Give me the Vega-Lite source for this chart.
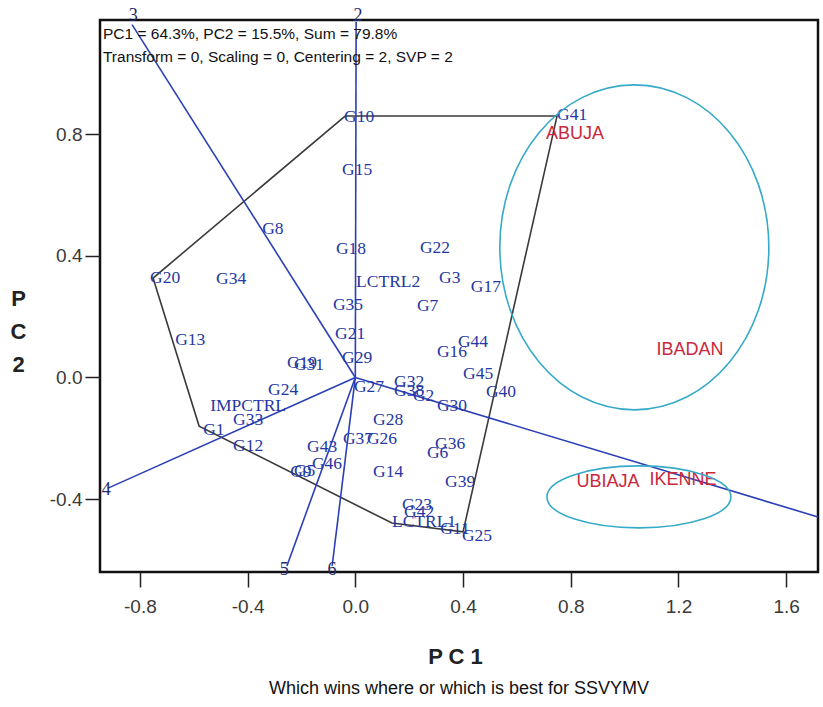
{
  "$schema": "https://vega.github.io/schema/vega-lite/v6.json",
  "width": 718,
  "height": 552,
  "autosize": "none",
  "padding": {"left": 100, "top": 20, "right": 5, "bottom": 135},
  "background": "white",
  "config": {
    "view": {"stroke": "#111", "strokeWidth": 2.5},
    "title": {"font": "Liberation Sans"}
  },
  "title": {
    "text": "Which wins where or which is best for SSVYMV",
    "orient": "bottom",
    "anchor": "middle",
    "font": "Liberation Sans",
    "fontSize": 18,
    "fontWeight": "normal",
    "color": "#111",
    "offset": 13
  },
  "datasets": {
    "genotypes": [
      {"g": "G10", "x": -0.042, "y": 0.857},
      {"g": "G41", "x": 0.749, "y": 0.863},
      {"g": "G15", "x": -0.049, "y": 0.683},
      {"g": "G8", "x": -0.346, "y": 0.488},
      {"g": "G18", "x": -0.072, "y": 0.423},
      {"g": "G22", "x": 0.24, "y": 0.426},
      {"g": "G20", "x": -0.762, "y": 0.327},
      {"g": "G34", "x": -0.517, "y": 0.324},
      {"g": "LCTRL2", "x": 0.003, "y": 0.314},
      {"g": "G3", "x": 0.311, "y": 0.327},
      {"g": "G17", "x": 0.429, "y": 0.298},
      {"g": "G35", "x": -0.083, "y": 0.238},
      {"g": "G7", "x": 0.229, "y": 0.235},
      {"g": "G13", "x": -0.669, "y": 0.123},
      {"g": "G21", "x": -0.075, "y": 0.143},
      {"g": "G44", "x": 0.381, "y": 0.117},
      {"g": "G29", "x": -0.049, "y": 0.064},
      {"g": "G16", "x": 0.303, "y": 0.084},
      {"g": "G19", "x": -0.254, "y": 0.048},
      {"g": "G31", "x": -0.228, "y": 0.041},
      {"g": "G24", "x": -0.324, "y": -0.041},
      {"g": "IMPCTRL", "x": -0.539, "y": -0.094},
      {"g": "G27", "x": -0.005, "y": -0.031},
      {"g": "G32", "x": 0.144, "y": -0.015},
      {"g": "G38", "x": 0.144, "y": -0.044},
      {"g": "G2", "x": 0.214, "y": -0.061},
      {"g": "G30", "x": 0.303, "y": -0.094},
      {"g": "G45", "x": 0.4, "y": 0.012},
      {"g": "G40", "x": 0.485, "y": -0.048},
      {"g": "G33", "x": -0.454, "y": -0.141},
      {"g": "G1", "x": -0.565, "y": -0.173},
      {"g": "G12", "x": -0.454, "y": -0.225},
      {"g": "G28", "x": 0.066, "y": -0.141},
      {"g": "G37", "x": -0.046, "y": -0.202},
      {"g": "G26", "x": 0.043, "y": -0.202},
      {"g": "G36", "x": 0.296, "y": -0.219},
      {"g": "G6", "x": 0.266, "y": -0.248},
      {"g": "G43", "x": -0.179, "y": -0.229},
      {"g": "G46", "x": -0.161, "y": -0.285},
      {"g": "G9", "x": -0.242, "y": -0.311},
      {"g": "G5", "x": -0.228, "y": -0.308},
      {"g": "G14", "x": 0.066, "y": -0.311},
      {"g": "G39", "x": 0.333, "y": -0.344},
      {"g": "G23", "x": 0.173, "y": -0.419},
      {"g": "G42", "x": 0.181, "y": -0.442},
      {"g": "LCTRL1", "x": 0.136, "y": -0.475},
      {"g": "G11", "x": 0.315, "y": -0.498},
      {"g": "G25", "x": 0.396, "y": -0.521}
    ],
    "polygon": [
      {"o": 1, "x": -0.038, "y": 0.86},
      {"o": 2, "x": 0.749, "y": 0.86},
      {"o": 3, "x": 0.4, "y": -0.508},
      {"o": 4, "x": 0.136, "y": -0.479},
      {"o": 5, "x": -0.58, "y": -0.16},
      {"o": 6, "x": -0.751, "y": 0.327},
      {"o": 7, "x": -0.038, "y": 0.86}
    ],
    "vectors": [
      {"v": "3", "x": 0, "y": 0},
      {"v": "3", "x": -0.829, "y": 1.161},
      {"v": "2", "x": 0, "y": 0},
      {"v": "2", "x": 0.003, "y": 1.17},
      {"v": "4", "x": 0, "y": 0},
      {"v": "4", "x": -0.918, "y": -0.364},
      {"v": "5", "x": 0, "y": 0},
      {"v": "5", "x": -0.254, "y": -0.62},
      {"v": "6", "x": 0, "y": 0},
      {"v": "6", "x": -0.086, "y": -0.62},
      {"v": "1", "x": 0, "y": 0},
      {"v": "1", "x": 1.718, "y": -0.459}
    ],
    "vectorLabels": [
      {"v": "3", "x": -0.825, "y": 1.19},
      {"v": "2", "x": 0.01, "y": 1.19},
      {"v": "4", "x": -0.925, "y": -0.37},
      {"v": "5", "x": -0.264, "y": -0.634},
      {"v": "6", "x": -0.087, "y": -0.634}
    ],
    "environments": [
      {"env": "ABUJA", "x": 0.816, "y": 0.801},
      {"env": "IBADAN", "x": 1.243, "y": 0.09},
      {"env": "UBIAJA", "x": 0.938, "y": -0.344},
      {"env": "IKENNE", "x": 1.217, "y": -0.337}
    ],
    "ellipses": [
      {"e": "big", "x": 1.036, "y": 0.428},
      {"e": "small", "x": 1.053, "y": -0.393}
    ],
    "notes": [
      {"t": "PC1 = 64.3%, PC2 = 15.5%, Sum = 79.8%", "x": -0.937, "y": 1.13},
      {"t": "Transform = 0, Scaling = 0, Centering = 2, SVP = 2", "x": -0.937, "y": 1.054}
    ]
  },
  "encoding": {
    "x": {
      "field": "x",
      "type": "quantitative",
      "scale": {"domain": [-0.948, 1.718], "nice": false, "zero": false},
      "axis": {
        "values": [-0.8, -0.4, 0, 0.4, 0.8, 1.2, 1.6],
        "labelExpr": "datum.value < 0 ? '-' + format(-datum.value, '.1f') : format(datum.value, '.1f')",
        "grid": false,
        "domain": false,
        "tickSize": 15,
        "tickWidth": 1.5,
        "tickColor": "#222",
        "labelFont": "Liberation Sans",
        "labelFontSize": 19,
        "labelColor": "#3a3a3a",
        "labelPadding": 10,
        "title": "P C 1",
        "titleFont": "Liberation Sans",
        "titleFontSize": 22,
        "titleFontWeight": "bold",
        "titleColor": "#222",
        "titleX": 355,
        "titleY": 84,
        "titleAlign": "center",
        "titleBaseline": "middle"
      }
    },
    "y": {
      "field": "y",
      "type": "quantitative",
      "scale": {"domain": [-0.64, 1.176], "nice": false, "zero": false},
      "axis": {
        "values": [-0.4, 0, 0.4, 0.8],
        "labelExpr": "datum.value < 0 ? '-' + format(-datum.value, '.1f') : format(datum.value, '.1f')",
        "grid": false,
        "domain": false,
        "tickSize": 15,
        "tickWidth": 1.5,
        "tickColor": "#222",
        "labelFont": "Liberation Sans",
        "labelFontSize": 19,
        "labelColor": "#3a3a3a",
        "labelPadding": 3,
        "title": ["P", "C", "2"],
        "titleAngle": 0,
        "titleFont": "Liberation Sans",
        "titleFontSize": 22,
        "titleFontWeight": "bold",
        "titleColor": "#222",
        "titleLineHeight": 33,
        "titleX": -82,
        "titleY": 278,
        "titleAlign": "center",
        "titleBaseline": "middle"
      }
    }
  },
  "layer": [
    {
      "data": {"name": "polygon"},
      "mark": {"type": "line", "color": "#3a3a3a", "strokeWidth": 1.6},
      "encoding": {"order": {"field": "o", "type": "quantitative"}}
    },
    {
      "data": {"name": "vectors"},
      "mark": {"type": "line", "color": "#2c40b5", "strokeWidth": 1.6},
      "encoding": {"detail": {"field": "v", "type": "nominal"}}
    },
    {
      "data": {"name": "vectorLabels"},
      "mark": {"type": "text", "font": "Liberation Serif", "fontSize": 18, "color": "#1f2a6b", "align": "center", "baseline": "middle"},
      "encoding": {"text": {"field": "v", "type": "nominal"}}
    },
    {
      "data": {"name": "genotypes"},
      "mark": {"type": "text", "font": "Liberation Serif", "fontSize": 17.5, "color": "#2537a3", "align": "left", "baseline": "middle"},
      "encoding": {"text": {"field": "g", "type": "nominal"}}
    },
    {
      "data": {"name": "environments"},
      "mark": {"type": "text", "font": "Liberation Sans", "fontSize": 18, "color": "#c8283c", "align": "center", "baseline": "middle"},
      "encoding": {"text": {"field": "env", "type": "nominal"}}
    },
    {
      "data": {"name": "ellipses"},
      "transform": [{"filter": "datum.e === 'big'"}],
      "mark": {"type": "point", "shape": "M -1,0 A 1,1.208 0 1,1 1,0 A 1,1.208 0 1,1 -1,0 Z", "size": 72361, "filled": false, "color": "#36aac8", "strokeWidth": 1.6, "opacity": 1}
    },
    {
      "data": {"name": "ellipses"},
      "transform": [{"filter": "datum.e === 'small'"}],
      "mark": {"type": "point", "shape": "M -1,0 A 1,0.337 0 1,1 1,0 A 1,0.337 0 1,1 -1,0 Z", "size": 33856, "filled": false, "color": "#36aac8", "strokeWidth": 1.6, "opacity": 1}
    },
    {
      "data": {"name": "notes"},
      "mark": {"type": "text", "font": "Liberation Sans", "fontSize": 15.5, "color": "#111", "align": "left", "baseline": "middle"},
      "encoding": {"text": {"field": "t", "type": "nominal"}}
    }
  ]
}
